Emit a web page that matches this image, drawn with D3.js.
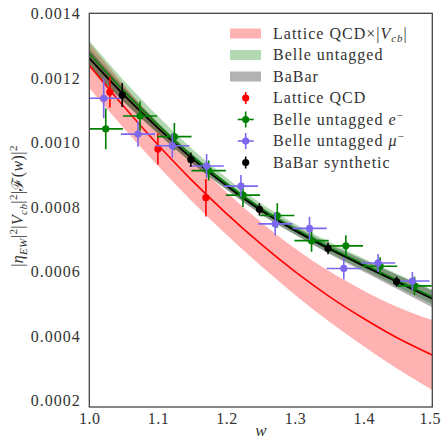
<!DOCTYPE html>
<html><head><meta charset="utf-8">
<script src="https://cdn.jsdelivr.net/npm/d3@7"></script>
<style>body{margin:0;background:#fff}svg{display:block}svg text{font-family:"Liberation Serif","DejaVu Serif",serif !important;fill:#333}</style>
</head><body>
<div id="chart"></div>
<script>
// ---- data ----
const wGrid = [1.00,1.05,1.10,1.15,1.20,1.25,1.30,1.35,1.40,1.45,1.50];
const latticeCurve = [0.001239,0.001112,0.000993,0.000882,0.000780,0.000686,0.000600,0.000523,0.000455,0.000394,0.000342];
const latticeBand  = [0.000070,0.000067,0.000065,0.000065,0.000066,0.000068,0.000072,0.000078,0.000086,0.000096,0.000108];
const babarCurve   = [0.001261,0.001148,0.001045,0.000950,0.000866,0.000790,0.000727,0.000670,0.000618,0.000567,0.000516];
const babarBand    = [0.000028,0.000022,0.000017,0.000014,0.000012,0.000012,0.000013,0.000015,0.000018,0.000022,0.000026];
const belleCurve   = [0.001275,0.001160,0.001055,0.000958,0.000873,0.000796,0.000732,0.000675,0.000623,0.000572,0.000522];
const belleBand    = [0.000040,0.000033,0.000027,0.000022,0.000018,0.000016,0.000016,0.000017,0.000018,0.000020,0.000022];

const lqcdW   = [1.03,1.10,1.17];
const lqcdV   = [0.001156,0.000980,0.000829];
const lqcdErr = [0.000048,0.000048,0.000058];

const eW   = [1.024,1.074,1.124,1.174,1.224,1.274,1.324,1.374,1.424,1.474];
const eV   = [0.001042,0.001082,0.001018,0.000913,0.000837,0.000774,0.000696,0.000680,0.000617,0.000556];
const eErr = [0.000063,0.000046,0.000042,0.000031,0.000037,0.000038,0.000034,0.000033,0.000028,0.000028];

const muW   = [1.021,1.071,1.121,1.171,1.221,1.271,1.321,1.371,1.421,1.471];
const muV   = [0.001137,0.001026,0.000990,0.000927,0.000865,0.000748,0.000734,0.000610,0.000627,0.000571];
const muErr = [0.000062,0.000039,0.000037,0.000037,0.000034,0.000036,0.000036,0.000034,0.000028,0.000028];
const binHalf = 0.025;

const bbW   = [1.048,1.148,1.248,1.348,1.448];
const bbV   = [0.001147,0.000947,0.000793,0.000672,0.000569];
const bbErr = [0.000037,0.000022,0.000019,0.000018,0.000016];

const xTicks = [1.0,1.1,1.2,1.3,1.4,1.5];
const yTicks = [0.0002,0.0004,0.0006,0.0008,0.0010,0.0012,0.0014];

// ---- layout ----
const FONT='"Liberation Serif","DejaVu Serif",serif';
const W=443,H=442;
const L=89.3,R=432.3,T=13.3,B=407;
const svg=d3.select("#chart").append("svg").attr("width",W).attr("height",H).attr("font-family",FONT);
const x=d3.scaleLinear().domain([1.0,1.5]).range([L,R]);
const y=d3.scaleLinear().domain([0.000181,0.0014]).range([B,T]);

svg.append("clipPath").attr("id","clip").append("rect").attr("x",L).attr("y",T).attr("width",R-L).attr("height",B-T);
const plot=svg.append("g").attr("clip-path","url(#clip)");

function band(center,half,color){
  const a=d3.area().curve(d3.curveNatural).x((d,i)=>x(wGrid[i])).y0((d,i)=>y(center[i]-half[i])).y1((d,i)=>y(center[i]+half[i]));
  plot.append("path").datum(wGrid).attr("d",a).attr("fill",color).attr("fill-opacity",0.3).attr("stroke","none");
}
function line(center,color,w){
  const l=d3.line().curve(d3.curveNatural).x((d,i)=>x(wGrid[i])).y((d,i)=>y(center[i]));
  plot.append("path").datum(wGrid).attr("d",l).attr("fill","none").attr("stroke",color).attr("stroke-width",w);
}
band(latticeCurve,latticeBand,"#ff0000");
band(belleCurve,belleBand,"#008000");
band(babarCurve,babarBand,"#000000");
line(latticeCurve,"#ff0000",1.6);
line(belleCurve,"#008000",1.6);
line(babarCurve,"#000000",1.8);

function points(ws,vs,errs,color,xerr){
  const g=plot.append("g");
  ws.forEach((w,i)=>{
    g.append("line").attr("x1",x(w)).attr("x2",x(w)).attr("y1",y(vs[i]-errs[i])).attr("y2",y(vs[i]+errs[i])).attr("stroke",color).attr("stroke-width",1.6);
    if(xerr) g.append("line").attr("x1",x(w-xerr)).attr("x2",x(w+xerr)).attr("y1",y(vs[i])).attr("y2",y(vs[i])).attr("stroke",color).attr("stroke-width",1.6);
    g.append("circle").attr("cx",x(w)).attr("cy",y(vs[i])).attr("r",3.6).attr("fill",color);
  });
}
points(lqcdW,lqcdV,lqcdErr,"#ff0000",0);
points(eW,eV,eErr,"#008000",binHalf);
points(muW,muV,muErr,"#7b68ee",binHalf);
points(bbW,bbV,bbErr,"#000000",0);

// axes
const ya=svg.append("g").attr("transform",`translate(${L},0)`).call(d3.axisLeft(y).tickValues(yTicks).tickSize(0).tickPadding(7.5).tickFormat(d3.format(".4f")));
const xa=svg.append("g").attr("transform",`translate(0,${B})`).call(d3.axisBottom(x).tickValues(xTicks).tickSize(0).tickPadding(6).tickFormat(d3.format(".1f")));
[ya,xa].forEach(a=>{a.attr("font-family",FONT).attr("font-size",16);a.select(".domain").remove();a.selectAll("text").attr("fill","#333");});
ya.selectAll("text").style("letter-spacing","1px").attr("dx","-1");
xa.selectAll("text").style("letter-spacing","0.5px").attr("dx",(d,i)=>i===xTicks.length-1?"-2.5":"0");
svg.append("rect").attr("x",L).attr("y",T).attr("width",R-L).attr("height",B-T).attr("fill","none").attr("stroke","#444").attr("stroke-width",1.3);

// axis labels
svg.append("text").attr("x",(L+R)/2).attr("y",436).attr("text-anchor","middle").style("font-size","17px").style("font-style","italic").text("w");
const yl=svg.append("text").attr("transform","translate(23,206) rotate(-90)").attr("text-anchor","middle").style("font-size","16px").style("letter-spacing","0.4px");
function seg(t,txt,opt){const s=t.append("tspan").text(txt);if(opt&&opt.it)s.style("font-style","italic");if(opt&&opt.sz)s.style("font-size",opt.sz);if(opt&&opt.dy)s.attr("dy",opt.dy);return s;}
seg(yl,"|");seg(yl,"η",{it:1});seg(yl,"EW",{it:1,sz:"11px",dy:"4"});seg(yl,"|",{dy:"-4"});seg(yl,"2",{sz:"11px",dy:"-6"});
seg(yl,"|",{dy:"6"});seg(yl,"V",{it:1});seg(yl,"cb",{it:1,sz:"11px",dy:"4"});seg(yl,"|",{dy:"-4"});seg(yl,"2",{sz:"11px",dy:"-6"});
seg(yl,"|ℱ(",{dy:"6"});seg(yl,"w",{it:1});seg(yl,")|");seg(yl,"2",{sz:"11px",dy:"-6"});

// legend
const lg=svg.append("g");
const rows=[33.5,55,76.5,98,119.5,141,162.5];
const swatches=[["#ff0000"],["#008000"],["#000000"]];
swatches.forEach((c,i)=>{lg.append("rect").attr("x",230).attr("y",rows[i]-5).attr("width",31).attr("height",10).attr("fill",c[0]).attr("fill-opacity",0.3);});
const mk=[["#ff0000",0,6],["#008000",8,8],["#7b68ee",8,8],["#000000",0,6]];
mk.forEach((m,j)=>{const cy=rows[3+j],cx=245.7;
  lg.append("line").attr("x1",cx).attr("x2",cx).attr("y1",cy-m[2]).attr("y2",cy+m[2]).attr("stroke",m[0]).attr("stroke-width",1.6);
  if(m[1]) lg.append("line").attr("x1",cx-m[1]).attr("x2",cx+m[1]).attr("y1",cy).attr("y2",cy).attr("stroke",m[0]).attr("stroke-width",1.6);
  lg.append("circle").attr("cx",cx).attr("cy",cy).attr("r",3.6).attr("fill",m[0]);});
function ltext(i){return lg.append("text").attr("x",273).attr("y",rows[i]+5).style("font-size","16px").style("letter-spacing","1px");}
let t=ltext(0);seg(t,"Lattice QCD×|");seg(t,"V",{it:1});seg(t,"cb",{it:1,sz:"11px",dy:"3"});seg(t,"|",{dy:"-3"});
ltext(1).text("Belle untagged");
ltext(2).text("BaBar");
ltext(3).text("Lattice QCD");
t=ltext(4);seg(t,"Belle untagged ");seg(t,"e",{it:1});seg(t,"−",{sz:"11px",dy:"-6"});
t=ltext(5);seg(t,"Belle untagged ");seg(t,"μ",{it:1});seg(t,"−",{sz:"11px",dy:"-6"});
ltext(6).text("BaBar synthetic");
</script>
</body></html>
